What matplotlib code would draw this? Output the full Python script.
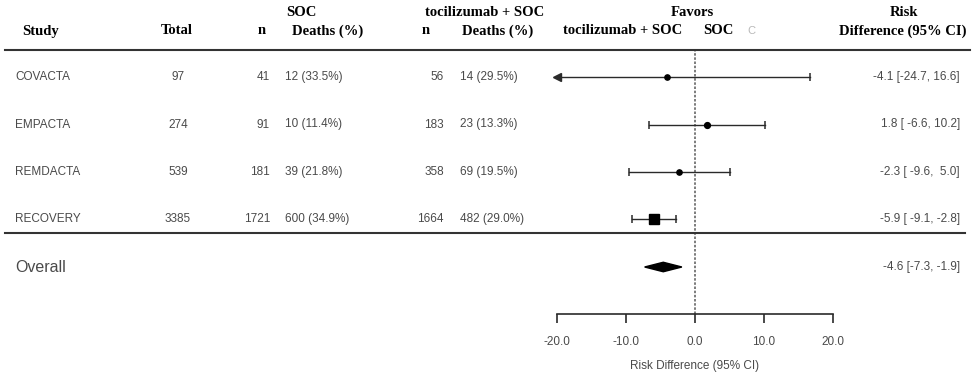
import numpy as np
import matplotlib
matplotlib.use("Agg")
import matplotlib.pyplot as plt
import matplotlib.transforms as mtransforms
from matplotlib.lines import Line2D
from matplotlib.patches import Polygon

# ---- data ----
studies = ["COVACTA", "EMPACTA", "REMDACTA", "RECOVERY"]
total = [97, 274, 539, 3385]
soc_n = [41, 91, 181, 1721]
soc_deaths = ["12 (33.5%)", "10 (11.4%)", "39 (21.8%)", "600 (34.9%)"]
toc_n = [56, 183, 358, 1664]
toc_deaths = ["14 (29.5%)", "23 (13.3%)", "69 (19.5%)", "482 (29.0%)"]
rd_est = [-4.1, 1.8, -2.3, -5.9]
rd_lo = [-24.7, -6.6, -9.6, -9.1]
rd_hi = [16.6, 10.2, 5.0, -2.8]
rd_text = ["-4.1 [-24.7, 16.6]", "1.8 [ -6.6, 10.2]", "-2.3 [ -9.6,  5.0]", "-5.9 [ -9.1, -2.8]"]
overall_est, overall_lo, overall_hi = -4.6, -7.3, -1.9
overall_text = "-4.6 [-7.3, -1.9]"
x_ticks = [-20, -10, 0, 10, 20]
x_tick_labels = ["-20.0", "-10.0", "0.0", "10.0", "20.0"]

W, H = 975, 384
fig = plt.figure(figsize=(W / 100, H / 100), dpi=100)

def fx(px):
    return px / W

def fy(py):
    return 1 - py / H

# forest plot axes: -20 at x=557px, 20 at x=833px
ax = fig.add_axes([fx(557), fy(314), fx(833) - fx(557), fy(50) - fy(314)])
row_y = np.arange(len(studies) + 1)
ax.set_xlim(-20, 20)
ax.set_ylim((314 - 77) / 47.5, (50 - 77) / 47.5)

line_col = "#2a2a2a"
txt_col = "#4a4a4a"
sans = "Liberation Sans"
serif = "Liberation Serif"

# reference line at zero
ax.axvline(0, color="#666666", lw=1.2, ls=(0, (1.5, 1)), zorder=1)

# study estimates
marker_style = ["o", "o", "o", "s"]
marker_size = [3.8, 4.2, 3.8, 7]
for i in range(len(studies)):
    lo = max(rd_lo[i], -20)
    hi = min(rd_hi[i], 20)
    ax.plot([lo, hi], [row_y[i], row_y[i]], color=line_col, lw=1.0, zorder=2)
    if rd_lo[i] < -20:
        ax.plot(-20, row_y[i], marker="<", ms=6, color=line_col, clip_on=False, zorder=3)
    else:
        ax.plot(lo, row_y[i], marker="|", ms=6, mew=1.1, color=line_col, zorder=3)
    ax.plot(hi, row_y[i], marker="|", ms=6, mew=1.1, color=line_col, zorder=3)
    ax.plot(rd_est[i], row_y[i], marker=marker_style[i], ms=marker_size[i],
            color="black", zorder=4)

# overall diamond
yo = row_y[-1]
h = 0.1
ax.add_patch(Polygon([(overall_lo, yo), (overall_est, yo - h), (overall_hi, yo),
                      (overall_est, yo + h)], closed=True, color="black", zorder=4))

for s in ["top", "left", "right"]:
    ax.spines[s].set_visible(False)
ax.spines["bottom"].set_color(line_col)
ax.spines["bottom"].set_linewidth(1.2)
ax.set_yticks([])
ax.set_xticks(x_ticks)
ax.set_xticklabels(x_tick_labels, fontfamily=sans, fontsize=8.5, color=txt_col)
ax.tick_params(axis="x", direction="out", length=6.5, width=1.2, color=line_col, pad=9)
ax.set_xlabel("Risk Difference (95% CI)", fontfamily=sans, fontsize=8.5, color=txt_col,
              labelpad=9)
ax.patch.set_alpha(0)

# horizontal rules
fig.add_artist(Line2D([fx(5), fx(970)], [fy(50), fy(50)], color="#333333", lw=1.5))
fig.add_artist(Line2D([fx(5), fx(965)], [fy(233), fy(233)], color="#333333", lw=1.5))

# header
hdr = dict(fontfamily=serif, fontweight="bold", fontsize=10.5, color="black", va="center")
fig.text(fx(22), fy(31), "Study", ha="left", **hdr)
fig.text(fx(177), fy(31), "Total", ha="center", **hdr)
fig.text(fx(262), fy(31), "n", ha="center", **hdr)
fig.text(fx(301), fy(12), "SOC", ha="center", **hdr)
fig.text(fx(328), fy(31), "Deaths (%)", ha="center", **hdr)
fig.text(fx(485), fy(12), "tocilizumab + SOC", ha="center", **hdr)
fig.text(fx(426), fy(31), "n", ha="center", **hdr)
fig.text(fx(498), fy(31), "Deaths (%)", ha="center", **hdr)
fig.text(fx(692), fy(12), "Favors", ha="center", **hdr)
fig.text(fx(623), fy(31), "tocilizumab + SOC", ha="center", **hdr)
fig.text(fx(718), fy(31), "SOC", ha="center", **hdr)
fig.text(fx(751), fy(31), "C", ha="center", va="center", fontfamily=sans,
         fontsize=8, color="#b8b8b8")
fig.text(fx(904), fy(12), "Risk", ha="center", **hdr)
fig.text(fx(903), fy(31), "Difference (95% CI)", ha="center", **hdr)

# table body: x in figure fraction, y in row data coords
tr = mtransforms.blended_transform_factory(fig.transFigure, ax.transData)
body = dict(fontfamily=sans, fontsize=8.5, color=txt_col, va="center", transform=tr)
for i in range(len(studies)):
    y = row_y[i]
    fig.text(fx(15), y, studies[i], ha="left", **body)
    fig.text(fx(178), y, str(total[i]), ha="center", **body)
    fig.text(fx(270), y, str(soc_n[i]), ha="right", **body)
    fig.text(fx(285), y, soc_deaths[i], ha="left", **body)
    fig.text(fx(444), y, str(toc_n[i]), ha="right", **body)
    fig.text(fx(460), y, toc_deaths[i], ha="left", **body)
    fig.text(fx(960), y, rd_text[i], ha="right", **body)

fig.text(fx(15), yo, "Overall", ha="left", fontfamily=sans, fontsize=11.5, color=txt_col,
         va="center", transform=tr)
fig.text(fx(960), yo, overall_text, ha="right", **body)

fig.savefig("out.png", dpi=100)
